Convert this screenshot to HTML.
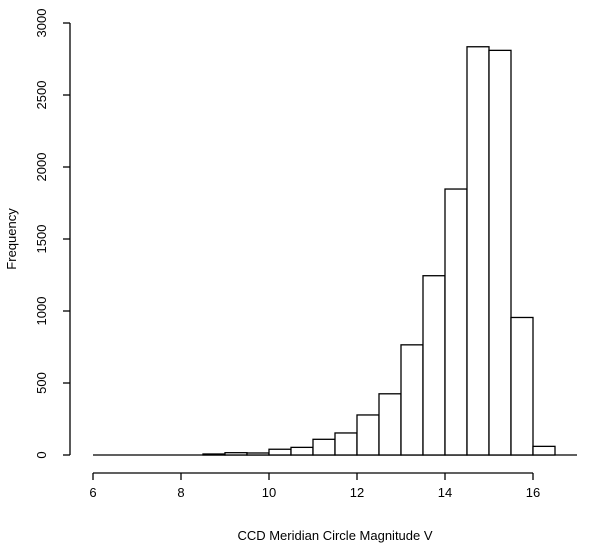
<!DOCTYPE html>
<html><head><meta charset="utf-8"><style>body{margin:0;background:#fff}svg{display:block}</style></head>
<body>
<svg id="chart" width="600" height="551" xmlns="http://www.w3.org/2000/svg" font-family="Liberation Sans, sans-serif" font-size="13">
<g id="bars"></g>
<g id="axes"></g>
<text x="335" y="540" text-anchor="middle">CCD Meridian Circle Magnitude V</text>
<text transform="translate(16,239) rotate(-90)" text-anchor="middle">Frequency</text>
</svg>
<script>
const binStarts=[6,6.5,7,7.5,8,8.5,9,9.5,10,10.5,11,11.5,12,12.5,13,13.5,14,14.5,15,15.5,16,16.5];
const counts=[0,0,0,0,0,7,16,14,40,53,109,153,278,425,765,1245,1847,2835,2810,955,60,0];
const xTicks=[6,8,10,12,14,16];
const yTicks=[0,500,1000,1500,2000,2500,3000];
const binWidth=0.5;
const NS="http://www.w3.org/2000/svg";
const X=v=>93+(v-6)*44;
const Y=v=>455-v*0.144;
function mk(t,a,p){const e=document.createElementNS(NS,t);for(const k in a)e.setAttribute(k,a[k]);p.appendChild(e);return e;}
const bars=document.getElementById('bars'),axes=document.getElementById('axes');
const base=mk('line',{x1:X(binStarts[0]),x2:X(binStarts[binStarts.length-1]+binWidth),y1:Y(0),y2:Y(0),stroke:'#000','stroke-width':1.3},bars);


binStarts.forEach((s,i)=>{
  const r=mk('rect',{x:X(s),y:Y(counts[i]),width:X(s+binWidth)-X(s),height:Y(0)-Y(counts[i]),fill:'#fff',stroke:'#000','stroke-width':1.3},bars);
  
  
});
const xa=mk('line',{x1:X(6),x2:X(16),y1:473,y2:473,stroke:'#000','stroke-width':1.3},axes);


xTicks.forEach(t=>{
  mk('line',{x1:X(t),x2:X(t),y1:473,y2:480,stroke:'#000','stroke-width':1.3},axes);
  const tx=mk('text',{x:X(t),y:497,'text-anchor':'middle'},axes);tx.textContent=t;
  
  
});
const ya=mk('line',{x1:70,x2:70,y1:Y(0),y2:Y(3000),stroke:'#000','stroke-width':1.3},axes);


yTicks.forEach(t=>{
  mk('line',{x1:63,x2:70,y1:Y(t),y2:Y(t),stroke:'#000','stroke-width':1.3},axes);
  const tx=mk('text',{transform:`translate(46,${Y(t)}) rotate(-90)`,'text-anchor':'middle'},axes);tx.textContent=t;
  
  
});
</script>
</body></html>
